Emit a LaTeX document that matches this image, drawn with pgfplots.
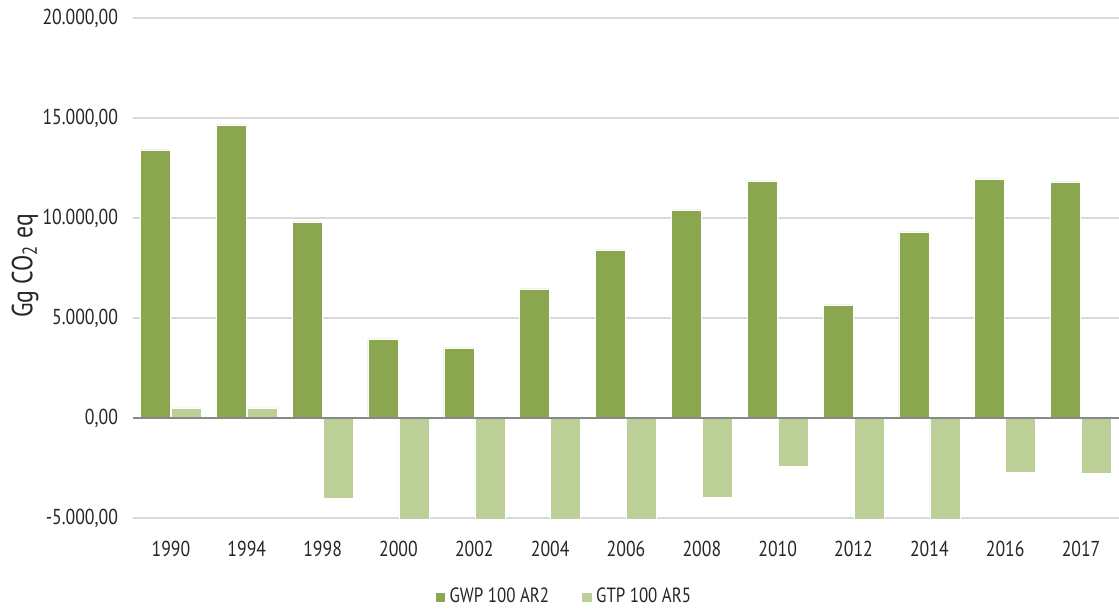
\documentclass[border=0pt]{standalone}
\usepackage{pgfplots}
\pgfplotsset{compat=1.18}
\usepackage{fontspec}
\setmainfont{PT Sans}[FakeStretch=0.82]
\definecolor{gwp}{HTML}{8AA64F}
\definecolor{gtp}{HTML}{BBCF97}
\definecolor{gridgray}{HTML}{D9D9D9}
\definecolor{zerogray}{HTML}{898989}
\begin{document}
\begin{tikzpicture}
\path[use as bounding box] (0,0) rectangle (559.5pt,305pt);
\begin{axis}[
  at={(66.5pt,46pt)}, anchor=south west,
  width=493pt, height=250pt, scale only axis,
  ybar=0.5pt, bar width=15pt,
  xmin=-0.5, xmax=12.5,
  ymin=-5000, ymax=20000,
  clip=false,
  axis line style={draw=none},
  tick style={draw=none},
  xtick=data,
  xticklabels={1990,1994,1998,2000,2002,2004,2006,2008,2010,2012,2014,2016,2017},
  ytick={-5000,0,5000,10000,15000,20000},
  scaled y ticks=false,
  ymajorgrids=true,
  grid style={gridgray, line width=1pt},
  /pgf/number format/assume math mode=true,
  yticklabel={\pgfmathprintnumber[fixed, fixed zerofill, precision=2, use comma, 1000 sep={.}]{\tick}},
  ticklabel style={font=\fontsize{10.8}{12}\selectfont, text=black!85},
  yticklabel style={xshift=-4pt},
  xticklabel style={yshift=-4pt},
  ylabel={Gg CO\textsubscript{2} eq},
  ylabel style={at={(axis description cs:-0.1095,0.504)}, anchor=center, font=\fontsize{14.5}{16}\selectfont, text=black!85},
  legend style={at={(axis description cs:0.438,-0.158)}, anchor=center, draw=none,
    legend columns=2, font=\fontsize{10.3}{12}\selectfont, text=black!85,
    /tikz/every even column/.append style={column sep=14pt}},
  legend image code/.code={\fill[#1] (0pt,-2.6pt) rectangle (5.2pt,2.6pt);},
]
\addplot[fill=gwp, draw=white, line width=0.3pt] coordinates {
  (0,13400) (1,14650) (2,9800) (3,3950) (4,3500) (5,6450) (6,8400)
  (7,10400) (8,11850) (9,5650) (10,9300) (11,11950) (12,11800)
};
\addplot[fill=gtp, draw=white, line width=0.3pt] coordinates {
  (0,500) (1,500) (2,-4000) (3,-5080) (4,-5080) (5,-5080) (6,-5080)
  (7,-3980) (8,-2400) (9,-5060) (10,-5060) (11,-2700) (12,-2750)
};
\legend{GWP 100 AR2, GTP 100 AR5}
\draw[zerogray, line width=1pt] (axis cs:-0.5,0) -- (axis cs:12.5,0);
\end{axis}
\end{tikzpicture}
\end{document}
